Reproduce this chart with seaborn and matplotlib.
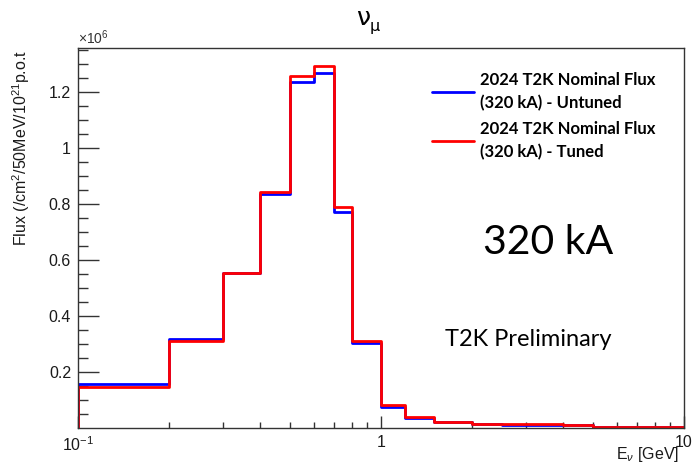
import numpy as np
import pandas as pd
import matplotlib
matplotlib.use("Agg")
import matplotlib.pyplot as plt
import seaborn as sns
from matplotlib.ticker import FixedLocator, NullFormatter, FixedFormatter, LogLocator

# ---- data (flux in units of 1e6 /cm^2/50MeV/1e21 p.o.t) ----
bin_edges = [0.1, 0.2, 0.3, 0.4, 0.5, 0.6, 0.7, 0.8, 1.0, 1.2, 1.5, 2.0,
             2.5, 3.0, 3.5, 4.0, 5.0, 7.0, 10.0]
flux_untuned = [0.157, 0.319, 0.553, 0.836, 1.237, 1.269, 0.773, 0.303, 0.076,
                0.037, 0.021, 0.014, 0.010, 0.010, 0.010, 0.009, 0.005, 0.003]
flux_tuned = [0.146, 0.312, 0.553, 0.842, 1.257, 1.294, 0.789, 0.311, 0.082,
              0.038, 0.022, 0.015, 0.014, 0.014, 0.014, 0.011, 0.005, 0.003]
label_untuned = "2024 T2K Nominal Flux\n(320 kA) - Untuned"
label_tuned = "2024 T2K Nominal Flux\n(320 kA) - Tuned"
ytick_vals = [0.2, 0.4, 0.6, 0.8, 1.0, 1.2]
ytick_labels = ["0.2", "0.4", "0.6", "0.8", "1", "1.2"]

sns.set_style("ticks")
plt.rcParams["font.family"] = ["Liberation Sans", "DejaVu Sans"]
plt.rcParams["mathtext.fontset"] = "custom"
plt.rcParams["mathtext.rm"] = "Liberation Sans"
plt.rcParams["mathtext.it"] = "Liberation Sans:italic"
for k in ["text.color", "axes.labelcolor", "xtick.color", "ytick.color"]:
    plt.rcParams[k] = "#1a1a1a"


def step_frame(edges, vals, name):
    x = [edges[0]] + list(edges)
    y = [0.0] + list(vals) + [vals[-1]]
    return pd.DataFrame({"E": x, "flux": y, "series": name})


df = pd.concat([step_frame(bin_edges, flux_untuned, label_untuned),
                step_frame(bin_edges, flux_tuned, label_tuned)], ignore_index=True)

fig = plt.figure(figsize=(6.92, 4.69), dpi=100)
ax = fig.add_axes([78 / 692, 1 - 428 / 469, (684 - 78) / 692, (428 - 48) / 469])

sns.lineplot(data=df, x="E", y="flux", hue="series",
             palette={label_untuned: "#0000ff", label_tuned: "#ff0000"},
             estimator=None, sort=False, drawstyle="steps-post",
             linewidth=2.0, ax=ax, legend=True)

ax.set_xscale("log")
ax.set_xlim(0.1, 10)
ax.set_ylim(0, 1.357)

# ticks (ROOT style, inward)
ax.xaxis.set_major_locator(FixedLocator([0.1, 1, 10]))
ax.xaxis.set_major_formatter(FixedFormatter([r"$10^{-1}$", "1", "10"]))
ax.xaxis.set_minor_locator(LogLocator(base=10, subs=np.arange(2, 10)))
ax.xaxis.set_minor_formatter(NullFormatter())
ax.yaxis.set_major_locator(FixedLocator(ytick_vals))
ax.yaxis.set_major_formatter(FixedFormatter(ytick_labels))
ax.yaxis.set_minor_locator(FixedLocator(np.arange(0.05, 1.36, 0.05)))
ax.tick_params(axis="x", which="major", direction="in", length=9, width=1,
               labelsize=11.5, pad=5, top=False, color="#333333")
ax.tick_params(axis="x", which="minor", direction="in", length=4.5, width=1,
               top=False, color="#333333")
ax.tick_params(axis="y", which="major", direction="in", length=15, width=1,
               labelsize=11.5, pad=5, right=False, color="#333333")
ax.tick_params(axis="y", which="minor", direction="in", length=7.5, width=1,
               right=False, color="#333333")
for s in ax.spines.values():
    s.set_color("#333333")
    s.set_linewidth(1.0)

ax.set_xlabel(r"E$_{\nu}$ [GeV]", fontsize=11.5, ha="right", va="center")
ax.xaxis.set_label_coords(0.992, -0.07)
ax.set_ylabel(r"Flux (/cm$^{2}$/50MeV/10$^{21}$p.o.t", fontsize=11.5, ha="right")
ax.yaxis.set_label_coords(-0.076, 0.995)

ax.text(0.0, 1.003, r"$\times$10$^{6}$", transform=ax.transAxes, fontsize=10,
        ha="left", va="bottom", color="#333333")
# title: nu with mu subscript
fig.text(363 / 692, 1 - 18 / 469, "ν", fontsize=18, family="DejaVu Sans",
         ha="center", va="center", color="black")
fig.text(375 / 692, 1 - 27 / 469, "μ", fontsize=11.5, family="DejaVu Sans",
         ha="center", va="center", color="black")

leg = ax.legend(loc="upper left", bbox_to_anchor=((432 - 78) / 606, (428 - 72) / 380),
                frameon=False, handlelength=2.5, handletextpad=0.4,
                labelspacing=0.6, prop={"family": "Lato", "weight": "bold", "size": 12},
                borderpad=0, borderaxespad=0)
for t in leg.get_texts():
    t.set_color("black")
    t.set_linespacing(1.5)

ax.text(548 / 692, 1 - 243 / 469, "320 kA", transform=fig.transFigure,
        fontsize=29.5, family="Lato", ha="center", va="center", color="black")
ax.text(528 / 692, 1 - 340 / 469, "T2K Preliminary", transform=fig.transFigure,
        fontsize=17, family="Lato", ha="center", va="center", color="black")

fig.savefig("out.png", dpi=100)
